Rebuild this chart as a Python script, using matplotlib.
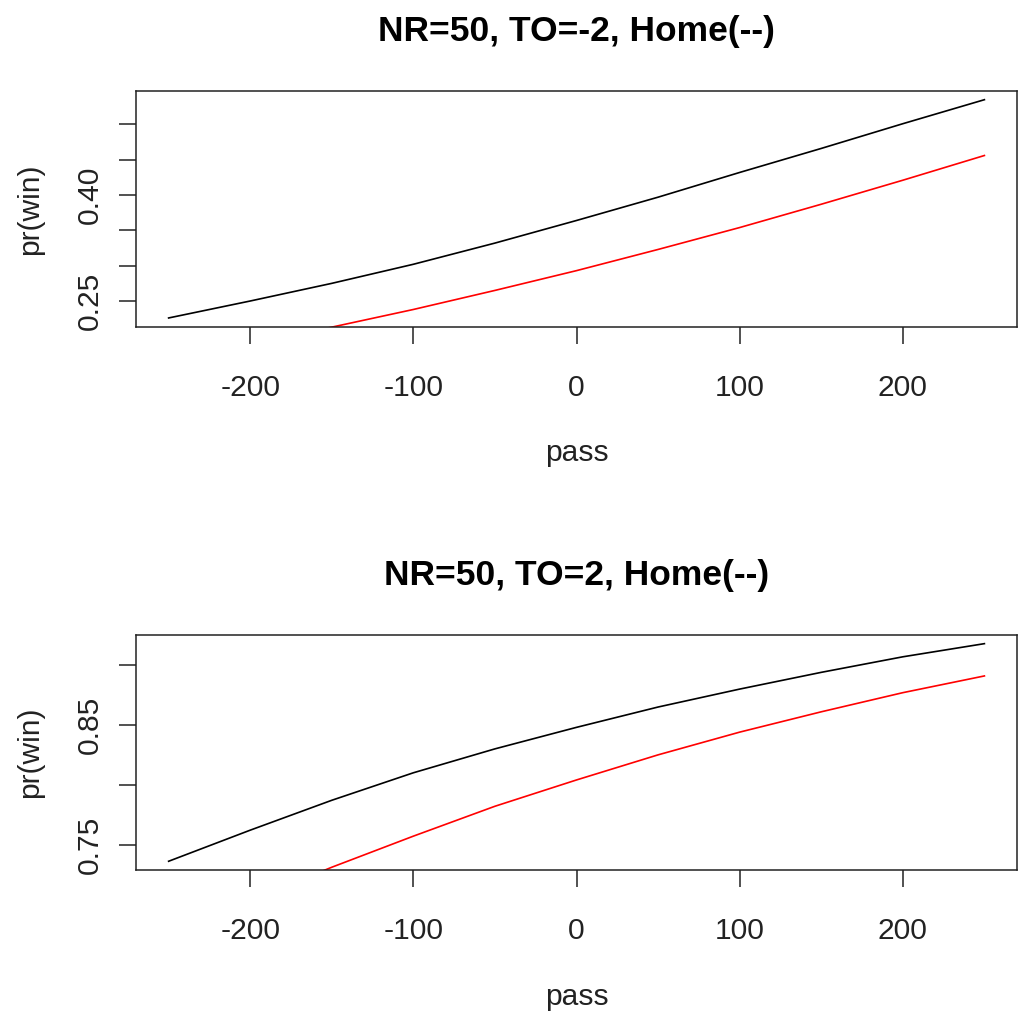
import matplotlib
matplotlib.use("Agg")
import matplotlib.pyplot as plt

plt.rcParams['font.family'] = ['Liberation Sans', 'DejaVu Sans']

# values
pass_yds = [-250, -200, -150, -100, -50, 0, 50, 100, 150, 200, 250]

# NR=50, TO=-2
top_black = [0.226, 0.250, 0.275, 0.302, 0.332, 0.364, 0.397, 0.432, 0.466, 0.501, 0.535]
top_red = [None, 0.190, 0.213, 0.238, 0.265, 0.293, 0.323, 0.354, 0.387, 0.421, 0.456]

# NR=50, TO=2
bot_black = [0.736, 0.762, 0.787, 0.810, 0.830, 0.848, 0.865, 0.880, 0.894, 0.907, 0.918]
bot_red = [None, 0.703, 0.731, 0.757, 0.782, 0.804, 0.825, 0.844, 0.861, 0.877, 0.891]

x_ticks = [-200, -100, 0, 100, 200]
top_yticks = [0.25, 0.30, 0.35, 0.40, 0.45, 0.50]
top_ylabels = ['0.25', '', '', '0.40', '', '']
bot_yticks = [0.75, 0.80, 0.85, 0.90]
bot_ylabels = ['0.75', '', '0.85', '']

titles = ['NR=50, TO=-2, Home(--)', 'NR=50, TO=2, Home(--)']

fig = plt.figure(figsize=(10.24, 10.13), dpi=100)
ax_top = fig.add_axes([0.1328, 0.6775, 0.8604, 0.2327])
ax_bot = fig.add_axes([0.1328, 0.1412, 0.8604, 0.2320])

panels = [
    (ax_top, top_black, top_red, top_yticks, top_ylabels, titles[0]),
    (ax_bot, bot_black, bot_red, bot_yticks, bot_ylabels, titles[1]),
]

for ax, black, red, yt, ylab, title in panels:
    rx = [p for p, v in zip(pass_yds, red) if v is not None]
    ry = [v for v in red if v is not None]
    ax.plot(pass_yds, black, color='black', lw=1.2)
    ax.plot(rx, ry, color='red', lw=1.2)

    # R style axis range: 4% padding around the plotted curve
    lo, hi = min(black), max(black)
    pad = (hi - lo) * 0.04
    ax.set_ylim(lo - pad, hi + pad)
    ax.set_xlim(-270, 270)

    ax.set_xticks(x_ticks)
    ax.set_xticklabels([str(v) for v in x_ticks])
    ax.set_yticks(yt)
    ax.set_yticklabels(ylab, rotation=90, va='center')
    ax.tick_params(axis='both', direction='out', length=12, width=1.1,
                   labelsize=21.6, colors='#222222')
    ax.tick_params(axis='x', pad=22)
    ax.tick_params(axis='y', pad=11)
    for s in ax.spines.values():
        s.set_linewidth(1.1)
        s.set_color('#222222')

    ax.set_xlabel('pass', fontsize=21.6, labelpad=27, color='#222222')
    ax.set_ylabel('pr(win)', fontsize=21.6, labelpad=23, color='#222222')
    ax.set_title(title, fontsize=25.5, fontweight='bold', pad=36)

fig.savefig('out.png', dpi=100)
